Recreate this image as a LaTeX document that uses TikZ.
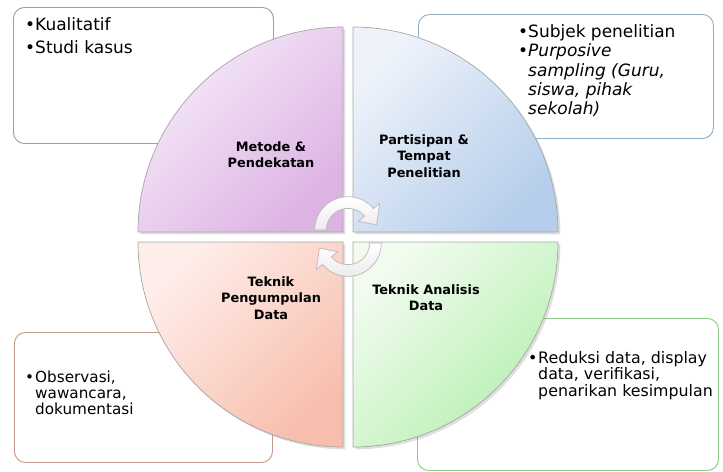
\documentclass[tikz,border=0pt]{standalone}
\usepackage{fontspec}
\setmainfont{DejaVu Sans}
\usetikzlibrary{positioning,shadows}

\definecolor{garisungu}{HTML}{B48CC0}
\definecolor{garisbiru}{HTML}{8FAFC8}
\definecolor{garismerah}{HTML}{C49A88}
\definecolor{garishijau}{HTML}{8CCB88}
\definecolor{ungumuda}{HTML}{F6ECF8}
\definecolor{ungutua}{HTML}{DDB3E4}
\definecolor{birumuda}{HTML}{EEF3FA}
\definecolor{birutua}{HTML}{B6CEEB}
\definecolor{merahmuda}{HTML}{FEEEEA}
\definecolor{merahtua}{HTML}{F8BEAD}
\definecolor{hijaumuda}{HTML}{F1FCEF}
\definecolor{hijautua}{HTML}{B6EFB0}

\newcommand{\poin}{\makebox[0.3cm][l]{\textbullet}}
\newcommand{\lanjut}{\hspace*{0.3cm}}

\begin{document}
\begin{tikzpicture}[
    kotak/.style={draw=#1, line width=0.8pt, rounded corners=0.33cm, fill=white, anchor=north west, inner sep=0pt},
    isi/.style={anchor=north west, inner sep=0pt, align=left},
    kuadran/.style={draw=gray!70, line width=0.6pt, drop shadow={opacity=0.25, shadow xshift=0.07cm, shadow yshift=-0.07cm}},
    judul/.style={align=center, font=\bfseries\fontsize{11}{13.9}\selectfont},
    putar/.style={draw=gray!55, line width=0.6pt, top color=white, bottom color=gray!15}
]
    \useasboundingbox (0,0) rectangle (21.69,-14.13);

    % Kotak
    \node[kotak=garisungu, minimum width=7.8cm, minimum height=4.08cm] (kotakMetode) at (0.39,-0.21) {};
    \node[kotak=garisbiru, minimum width=8.85cm, minimum height=3.72cm] (kotakPartisipan) at (12.54,-0.42) {};
    \node[kotak=garismerah, minimum width=7.74cm, minimum height=3.9cm] (kotakPengumpulan) at (0.42,-9.96) {};
    \node[kotak=garishijau, minimum width=9.03cm, minimum height=4.56cm] (kotakAnalisis) at (12.51,-9.54) {};

    % Isi kotak
    \node[isi, font=\fontsize{14.5}{19.6}\selectfont] (isiMetode) at ([shift={(0.36,-0.3)}]kotakMetode.north west)
        {\poin Kualitatif\\\poin Studi kasus};
    \node[isi, font=\fontsize{14.5}{16.6}\selectfont] (isiPartisipan) at ([shift={(3.0,-0.3)}]kotakPartisipan.north west)
        {\poin Subjek penelitian\\\poin\textit{Purposive}\\\lanjut\textit{sampling (Guru,}\\\lanjut\textit{siswa, pihak}\\\lanjut\textit{sekolah)}};
    \node[isi, font=\fontsize{13}{13.5}\selectfont] (isiPengumpulan) at ([shift={(0.33,-1.17)}]kotakPengumpulan.north west)
        {\poin Observasi,\\\lanjut wawancara,\\\lanjut dokumentasi};
    \node[isi, font=\fontsize{13.5}{14}\selectfont] (isiAnalisis) at ([shift={(3.33,-0.99)}]kotakAnalisis.north west)
        {\poin Reduksi data, display\\\lanjut data, verifikasi,\\\lanjut penarikan kesimpulan};

    % Kuadran
    \draw[kuadran, top color=ungumuda, bottom color=ungutua, shading angle=45]
        (10.29,-6.96) -- ++(-6.15,0) arc[start angle=180, end angle=90, radius=6.15] -- cycle;
    \draw[kuadran, top color=birumuda, bottom color=birutua, shading angle=45]
        (10.59,-6.96) -- ++(0,6.15) arc[start angle=90, end angle=0, radius=6.15] -- cycle;
    \draw[kuadran, top color=merahmuda, bottom color=merahtua, shading angle=45]
        (10.29,-7.26) -- ++(0,-6.15) arc[start angle=270, end angle=180, radius=6.15] -- cycle;
    \draw[kuadran, top color=hijaumuda, bottom color=hijautua, shading angle=45]
        (10.59,-7.26) -- ++(6.15,0) arc[start angle=0, end angle=-90, radius=6.15] -- cycle;

    % Panah putar
    \foreach \py/\sudut in {-6.9/0, -7.29/180}
        \draw[putar, shift={(10.44,\py)}, rotate=\sudut] (180:1.0) arc[start angle=180, end angle=40, radius=1.0]
            -- (40:1.24) -- (10:0.87) -- (40:0.41) -- (40:0.65) arc[start angle=40, end angle=180, radius=0.65] -- cycle;

    % Judul
    \node[judul] (metode) at (8.13,-4.65) {Metode \&\\Pendekatan};
    \node[judul] (partisipan) at (12.72,-4.68) {Partisipan \&\\Tempat\\Penelitian};
    \node[judul] (pengumpulan) at (8.13,-8.94) {Teknik\\Pengumpulan\\Data};
    \node[judul] (analisis) at (12.78,-8.94) {Teknik Analisis\\Data};
\end{tikzpicture}
\end{document}
